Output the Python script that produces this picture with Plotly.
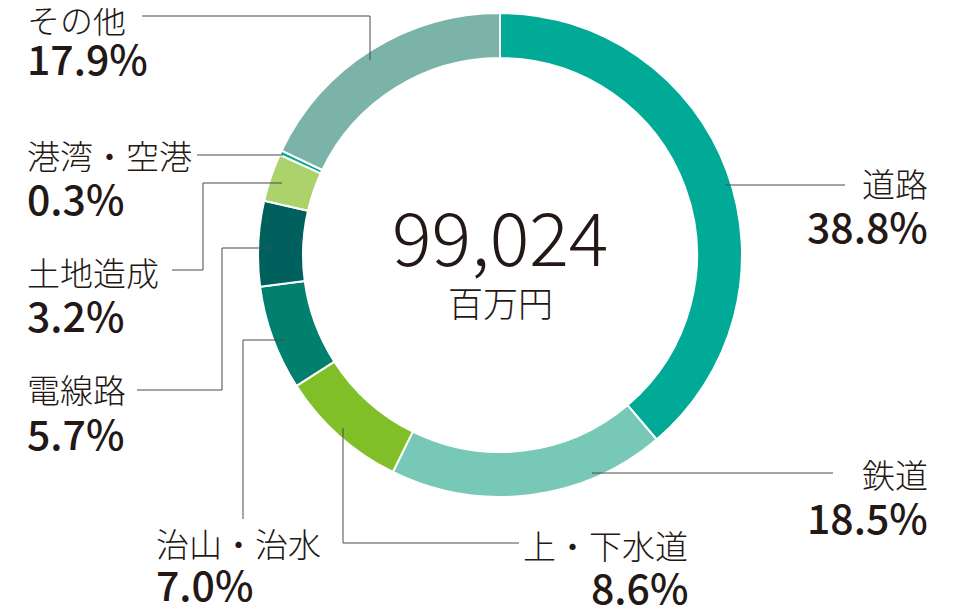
import plotly.graph_objects as go

# the page body keeps the browser's default 8px margin
OFF = 8
W, H = 960 - OFF, 606 - OFF

# data
CATEGORIES = ["道路", "鉄道", "上・下水道", "治山・治水", "電線路", "土地造成", "港湾・空港", "その他"]
SHARES = [38.8, 18.5, 8.6, 7.0, 5.7, 3.2, 0.3, 17.9]
TOTAL_LABEL = "99,024"
UNIT_LABEL = "百万円"

COLORS = ["#00AA96", "#77C8B6", "#80BF28", "#00806D", "#00605E", "#ABD26B", "#00AA96", "#7BB3A9"]
TEXT_COLOR = "#231815"
LINE_COLOR = "#4a4a4a"
FONT = "Noto Sans CJK JP"

# ring geometry, screen pixels
CX, CY, R_OUT, R_IN = 500, 255, 242, 197

# label layout: (name y, pct y, x, anchor), screen pixels
LABEL_POS = {
    "道路": (183, 225, 930, "right"),
    "鉄道": (474, 516, 930, "right"),
    "上・下水道": (545, 586, 690, "right"),
    "治山・治水": (543, 583, 154, "left"),
    "電線路": (389, 432, 25, "left"),
    "土地造成": (272, 314, 25, "left"),
    "港湾・空港": (155, 197, 25, "left"),
    "その他": (19, 57, 25, "left"),
}

# leader polylines, screen pixels
LEADERS = [
    [(725, 185), (845, 185)],
    [(592, 473), (833, 473)],
    [(343, 428), (343, 543), (519, 543)],
    [(285, 340), (243, 340), (243, 519)],
    [(272, 248), (222, 248), (222, 390), (137, 390)],
    [(282, 183), (203, 183), (203, 270), (172, 270)],
    [(283, 155), (197, 155)],
    [(370, 60), (370, 16), (142, 16)],
]


def px(x, y):
    return (x - OFF) / W, 1 - (y - OFF) / H


x0, y0 = px(CX - R_OUT, CY + R_OUT)
x1, y1 = px(CX + R_OUT, CY - R_OUT)

fig = go.Figure(go.Pie(
    labels=CATEGORIES,
    values=SHARES,
    sort=False,
    direction="clockwise",
    rotation=0,
    hole=R_IN / R_OUT,
    textinfo="none",
    hoverinfo="label+percent",
    marker=dict(colors=COLORS, line=dict(color="white", width=2)),
    domain=dict(x=[x0, x1], y=[y0, y1]),
    showlegend=False,
))

shapes = []
for pts in LEADERS:
    p = [px(*q) for q in pts]
    path = "M " + " L ".join(f"{a},{b}" for a, b in p)
    shapes.append(dict(type="path", path=path, xref="paper", yref="paper",
                       line=dict(color=LINE_COLOR, width=1)))

annotations = []
for name, share in zip(CATEGORIES, SHARES):
    ny, py, x, anchor = LABEL_POS[name]
    for y, txt, size, weight in [(ny, name, 33, 300), (py, f"{share:.1f}%", 41, 500)]:
        ax, ay = px(x, y)
        annotations.append(dict(
            x=ax, y=ay, xref="paper", yref="paper", text=txt, showarrow=False,
            xanchor=anchor, yanchor="middle",
            font=dict(family=FONT, size=size, color=TEXT_COLOR, weight=weight)))

ax, ay = px(CX, 233)
annotations.append(dict(x=ax, y=ay, xref="paper", yref="paper", text=TOTAL_LABEL,
                        showarrow=False, xanchor="center", yanchor="middle",
                        font=dict(family=FONT, size=74, color=TEXT_COLOR, weight=300)))
ax, ay = px(CX, 301)
annotations.append(dict(x=ax, y=ay, xref="paper", yref="paper", text=UNIT_LABEL,
                        showarrow=False, xanchor="center", yanchor="middle",
                        font=dict(family=FONT, size=35, color=TEXT_COLOR, weight=300)))

fig.update_layout(
    width=W, height=H,
    margin=dict(l=0, r=0, t=0, b=0),
    paper_bgcolor="white",
    plot_bgcolor="white",
    shapes=shapes,
    annotations=annotations,
)

fig.write_html("out.html")
